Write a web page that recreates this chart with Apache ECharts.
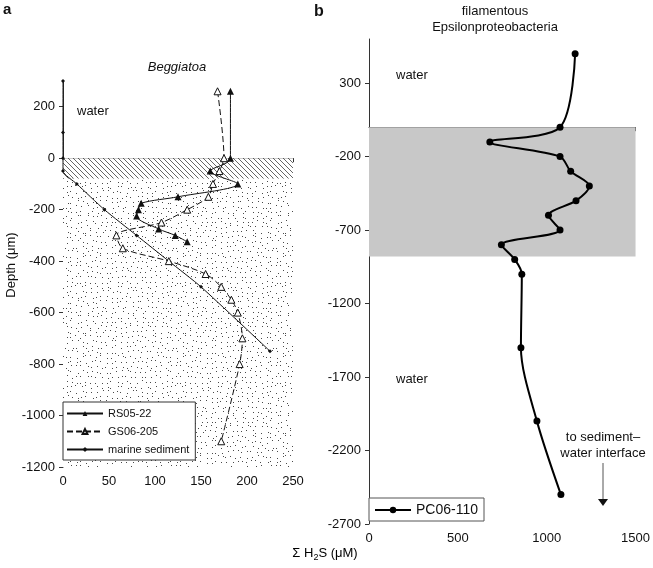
<!DOCTYPE html>
<html>
<head>
<meta charset="utf-8">
<script src="https://cdn.jsdelivr.net/npm/echarts@6/dist/echarts.min.js"></script>
<style>
  html, body { margin: 0; padding: 0; background: #fff; }
  #chart { width: 653px; height: 568px; }
</style>
</head>
<body>
<div id="chart"></div>
<script>
// panel a - Beggiatoa
var rsDepth = [260, 0, -50, -100, -150, -175, -200, -225, -275, -300, -325];
var rsH2S   = [182, 182, 160, 190, 125, 85, 82, 80, 104, 122, 135];
var gsDepth = [260, 0, -50, -100, -150, -200, -250, -300, -350, -400, -450, -500, -550, -600, -700, -800, -1100];
var gsH2S   = [168, 175, 170, 163, 158, 135, 107, 58, 65, 115, 155, 172, 183, 190, 195, 192, 172];
var msDepth = [300, 100, 0, -50, -100, -200, -300, -400, -500, -750];
var msH2S   = [0, 0, 0, 0, 15, 45, 80, 115, 150, 225];
// hatched interface layer + sediment (depth, um)
var interfaceLayer = [0, -80];
var sedimentLayer = [-80, -1200];

// panel b - filamentous Epsilonproteobacteria
var pcDepth = [500, 0, -100, -200, -300, -400, -500, -600, -700, -800, -900, -1000, -1500, -2000, -2500];
var pcH2S   = [1160, 1075, 680, 1075, 1135, 1240, 1165, 1010, 1075, 745, 820, 860, 855, 945, 1080];
var biofilmLayer = [0, -880];

function pairs(xs, ys) {
    return xs.map(function (x, i) { return [x, ys[i]]; });
}

// textures
function hatchPattern() {
    var c = document.createElement('canvas');
    c.width = 5; c.height = 5;
    var g = c.getContext('2d');
    g.fillStyle = '#fff';
    g.fillRect(0, 0, 5, 5);
    g.strokeStyle = '#555';
    g.lineWidth = 0.9;
    g.beginPath();
    g.moveTo(-1, -1); g.lineTo(6, 6);
    g.moveTo(-1, 4); g.lineTo(1, 6);
    g.moveTo(4, -1); g.lineTo(6, 1);
    g.stroke();
    return c;
}
function stipplePattern() {
    var n = 100, cell = 5;
    var c = document.createElement('canvas');
    c.width = n; c.height = n;
    var g = c.getContext('2d');
    g.fillStyle = '#fff';
    g.fillRect(0, 0, n, n);
    g.fillStyle = '#4a4a4a';
    var seed = 7;
    function rnd() {
        seed = (seed + 0x6D2B79F5) | 0;
        var t = Math.imul(seed ^ (seed >>> 15), 1 | seed);
        t = (t + Math.imul(t ^ (t >>> 7), 61 | t)) ^ t;
        return ((t ^ (t >>> 14)) >>> 0) / 4294967296;
    }
    // jittered grid so the dots spread evenly
    for (var i = 0; i < n; i += cell) {
        for (var j = 0; j < n; j += cell) {
            g.fillRect(i + Math.floor(rnd() * (cell - 1)), j + Math.floor(rnd() * (cell - 1)), 1, 1);
        }
    }
    return c;
}

var font = 'Liberation Sans, Arial, sans-serif';
var chart = echarts.init(document.getElementById('chart'));

function plain(v) { return String(v); }

var axisCommon = {
    axisLine: { show: true, lineStyle: { color: '#333', width: 1 } },
    axisTick: { show: true, length: 4, lineStyle: { color: '#333' } },
    axisLabel: { color: '#111', fontSize: 13, fontFamily: font, formatter: plain },
    splitLine: { show: false }
};

chart.setOption({
    animation: false,
    backgroundColor: '#fff',
    grid: [
        { left: 63, top: 81, width: 230, height: 386 },
        { left: 369, top: 39, width: 267, height: 485 }
    ],
    xAxis: [
        Object.assign({ type: 'value', gridIndex: 0, min: 0, max: 250, interval: 50 }, axisCommon),
        Object.assign({ type: 'value', gridIndex: 1, min: 0, max: 1500, interval: 500 }, axisCommon)
    ],
    yAxis: [
        Object.assign({}, axisCommon, { type: 'value', gridIndex: 0, min: -1200, max: 300, interval: 200,
            axisLabel: { color: '#111', fontSize: 13, fontFamily: font, formatter: plain, showMaxLabel: false } }),
        Object.assign({}, axisCommon, { type: 'value', gridIndex: 1, min: -2700, max: 600, interval: 500,
            axisLabel: { color: '#111', fontSize: 13, fontFamily: font, formatter: plain, showMaxLabel: false } })
    ],
    legend: [
        {
            left: 63, top: 402, orient: 'vertical',
            data: ['RS05-22', 'GS06-205', 'marine sediment'],
            backgroundColor: '#fff', borderColor: '#333', borderWidth: 1,
            padding: [6, 6, 5, 3], itemGap: 7, itemWidth: 36, itemHeight: 6,
            textStyle: { fontSize: 11, fontFamily: font, color: '#111' }
        },
        {
            left: 369, top: 498, orient: 'vertical',
            data: ['PC06-110'],
            backgroundColor: '#fff', borderColor: '#555', borderWidth: 1,
            padding: [5, 6, 4, 5], itemWidth: 36, itemHeight: 8,
            textStyle: { fontSize: 14, fontFamily: font, color: '#111' }
        }
    ],
    series: [
        {
            name: 'marine sediment', type: 'line', xAxisIndex: 0, yAxisIndex: 0,
            data: pairs(msH2S, msDepth), smooth: 0.2,
            symbol: 'diamond', symbolSize: 4,
            lineStyle: { color: '#111', width: 1 },
            itemStyle: { color: '#111' },
            z: 3,
            markArea: {
                silent: true,
                label: { show: false },
                data: [
                    [{ coord: [0, interfaceLayer[0]], itemStyle: { color: { image: hatchPattern(), repeat: 'repeat' }, opacity: 1 } },
                     { coord: [250, interfaceLayer[1]] }],
                    [{ coord: [0, sedimentLayer[0]], itemStyle: { color: { image: stipplePattern(), repeat: 'repeat' }, opacity: 1 } },
                     { coord: [250, sedimentLayer[1]] }]
                ]
            }
        },
        {
            name: 'RS05-22', type: 'line', xAxisIndex: 0, yAxisIndex: 0,
            data: pairs(rsH2S, rsDepth), smooth: 0.3,
            symbol: 'triangle', symbolSize: 7,
            lineStyle: { color: '#111', width: 1 },
            itemStyle: { color: '#111' },
            z: 4
        },
        {
            name: 'GS06-205', type: 'line', xAxisIndex: 0, yAxisIndex: 0,
            data: pairs(gsH2S, gsDepth), smooth: 0.3,
            symbol: 'triangle', symbolSize: 7,
            lineStyle: { color: '#111', width: 1, type: [6, 3] },
            itemStyle: { color: '#fff', borderColor: '#111', borderWidth: 1 },
            z: 4
        },
        {
            name: 'PC06-110', type: 'line', xAxisIndex: 1, yAxisIndex: 1,
            data: pairs(pcH2S, pcDepth), smooth: 0.3,
            symbol: 'circle', symbolSize: 7,
            lineStyle: { color: '#000', width: 2 },
            itemStyle: { color: '#000' },
            z: 4,
            markArea: {
                silent: true,
                label: { show: false },
                itemStyle: { color: '#c8c8c8', opacity: 1 },
                data: [[{ coord: [0, biofilmLayer[0]] }, { coord: [1500, biofilmLayer[1]] }]]
            }
        }
    ],
    graphic: [
        { type: 'text', left: 3, top: 2, style: { text: 'a', font: 'bold 15px ' + font, fill: '#111' } },
        { type: 'text', left: 314, top: 4, style: { text: 'b', font: 'bold 16px ' + font, fill: '#111' } },
        { type: 'text', x: 495, y: 3, style: { text: 'filamentous\nEpsilonproteobacteria', font: '13px ' + font, fill: '#111', textAlign: 'center', lineHeight: 16 } },
        { type: 'text', x: 177, y: 61, style: { text: 'Beggiatoa', font: 'italic 13px ' + font, fill: '#111', textAlign: 'center' } },
        { type: 'text', x: 77, y: 105, style: { text: 'water', font: '13px ' + font, fill: '#111' } },
        { type: 'text', x: 71, y: 163, style: { text: 'sediment–water interface', font: '13px ' + font, fill: '#111' } },
        { type: 'text', x: 76, y: 305, style: { text: 'sediment', font: '13px ' + font, fill: '#111' } },
        { type: 'text', x: 396, y: 69, style: { text: 'water', font: '13px ' + font, fill: '#111' } },
        { type: 'text', x: 396, y: 183, style: { text: 'biofilm', font: '13px ' + font, fill: '#111' } },
        { type: 'text', x: 396, y: 373, style: { text: 'water', font: '13px ' + font, fill: '#111' } },
        { type: 'text', x: 603, y: 429, style: { text: 'to sediment–\nwater interface', font: '13px ' + font, fill: '#111', textAlign: 'center', lineHeight: 16 } },
        { type: 'line', shape: { x1: 603, y1: 463, x2: 603, y2: 500 }, style: { stroke: '#555', lineWidth: 1 } },
        { type: 'polygon', shape: { points: [[598, 499], [608, 499], [603, 506]] }, style: { fill: '#111' } },
        { type: 'text', x: 11, y: 265, rotation: Math.PI / 2, style: { text: 'Depth (μm)', font: '13px ' + font, fill: '#111', textAlign: 'center', textVerticalAlign: 'middle' } },
        { type: 'text', x: 325, y: 545, style: {
            text: '{a|Σ H}{s|2}{a|S (μM)}', textAlign: 'center',
            rich: {
                a: { fontSize: 13, fontFamily: font, color: '#111' },
                s: { fontSize: 9, fontFamily: font, color: '#111', padding: [8, 0, 0, 0] }
            }
        } }
    ]
});
</script>
</body>
</html>
